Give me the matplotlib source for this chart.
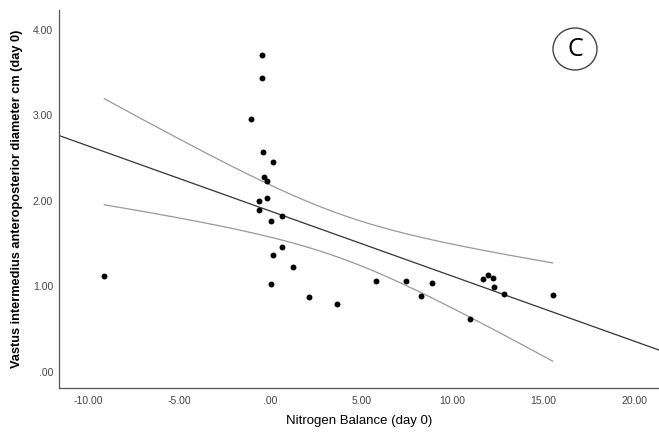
import numpy as np
import matplotlib.pyplot as plt
from matplotlib.patches import Ellipse
from matplotlib.ticker import FuncFormatter, MultipleLocator

# Nitrogen balance (day 0) vs vastus intermedius AP diameter (day 0)
nitrogen = [-9.13, -0.47, -0.48, -1.07, -0.40, 0.15, -0.34, -0.19, -0.63, -0.21,
            -0.65, 0.63, 0.05, 0.61, 0.14, 1.25, 0.05, 2.10, 3.64, 5.80,
            7.45, 8.27, 8.89, 10.96, 11.69, 11.97, 12.24, 12.30, 12.83, 15.50]
diameter = [1.12, 3.70, 3.43, 2.95, 2.57, 2.45, 2.28, 2.23, 2.00, 2.03,
            1.89, 1.82, 1.76, 1.46, 1.37, 1.22, 1.02, 0.87, 0.79, 1.06,
            1.06, 0.88, 1.04, 0.62, 1.08, 1.13, 1.10, 0.99, 0.91, 0.90]

x = np.array(nitrogen)
y = np.array(diameter)
n = len(x)

# linear fit + 95% CI of the mean
slope, intercept = np.polyfit(x, y, 1)
resid = y - (intercept + slope * x)
s = np.sqrt(np.sum(resid ** 2) / (n - 2))
t_crit = 2.048  # t(0.975, df=28)
sxx = np.sum((x - x.mean()) ** 2)

xlim = (-11.64, 21.35)
ylim = (-0.19, 4.23)

fig = plt.figure(figsize=(6.59, 4.32), dpi=100)
ax = fig.add_axes([0.089, 0.102, 0.911, 0.875])

xl = np.linspace(xlim[0], xlim[1], 200)
ax.plot(xl, intercept + slope * xl, color='#333333', lw=0.9, zorder=2)

xc = np.linspace(x.min(), x.max(), 200)
yc = intercept + slope * xc
half = t_crit * s * np.sqrt(1 / n + (xc - x.mean()) ** 2 / sxx)
ax.plot(xc, yc + half, color='#999999', lw=0.9, zorder=2)
ax.plot(xc, yc - half, color='#999999', lw=0.9, zorder=2)

ax.scatter(x, y, s=18, color='black', zorder=3, linewidths=0)

ax.set_xlim(*xlim)
ax.set_ylim(*ylim)
ax.xaxis.set_major_locator(MultipleLocator(5))
ax.yaxis.set_major_locator(MultipleLocator(1))


def fmt(v, pos):
    txt = f"{v:.2f}"
    if txt in ("0.00", "-0.00"):
        return ".00"
    return txt


ax.xaxis.set_major_formatter(FuncFormatter(fmt))
ax.yaxis.set_major_formatter(FuncFormatter(fmt))
ax.tick_params(length=0, labelsize=7.5, labelcolor='#444444')
ax.tick_params(axis='x', pad=6)
ax.tick_params(axis='y', pad=4)
for lab in ax.get_xticklabels() + ax.get_yticklabels():
    lab.set_fontfamily('Liberation Sans')

for side in ['top', 'right']:
    ax.spines[side].set_visible(False)
for side in ['left', 'bottom']:
    ax.spines[side].set_color('#555555')
    ax.spines[side].set_linewidth(0.9)

ax.set_xlabel('Nitrogen Balance (day 0)', fontsize=9.5, family='Liberation Sans',
              labelpad=6)
ax.set_ylabel('Vastus intermedius anteroposterior diameter cm (day 0)', fontsize=9.2,
              family='Liberation Sans', fontweight='bold', labelpad=7)

# panel letter
fig.patches.append(Ellipse((575 / 659, 1 - 49 / 432), 44 / 659, 42 / 432,
                           transform=fig.transFigure, fill=False,
                           edgecolor='#444444', lw=1.0))
fig.text(575 / 659, 1 - 49 / 432, 'C', fontsize=18, family='Open Sans',
         ha='center', va='center')

fig.savefig('out.png', dpi=100)
